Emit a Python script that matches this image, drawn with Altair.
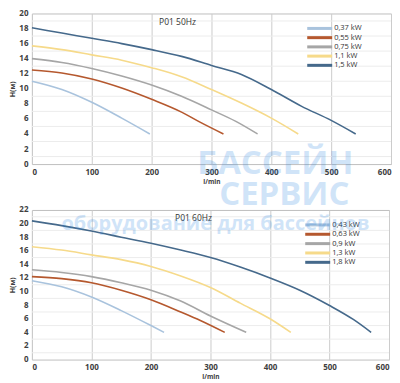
import altair as alt
import pandas as pd

FONT = "Open Sans"

# ---------------- data: 50 Hz ----------------
kw50 = ["0,37 kW", "0,55 kW", "0,75 kW", "1,1 kW", "1,5 kW"]
col50 = ["#a9c3dd", "#b5582e", "#a6a6a6", "#f6da8a", "#45698b"]
q50_037 = [0, 50, 100, 150, 197]
h50_037 = [11.0, 9.9, 8.2, 6.1, 4.0]
q50_055 = [0, 50, 100, 150, 200, 250, 280, 320]
h50_055 = [12.5, 12.1, 11.3, 10.1, 8.6, 6.9, 5.6, 4.0]
q50_075 = [0, 50, 100, 150, 200, 250, 300, 340, 377]
h50_075 = [14.0, 13.5, 12.7, 11.7, 10.5, 9.0, 7.2, 5.7, 4.0]
q50_11 = [0, 50, 100, 150, 200, 250, 300, 350, 400, 445]
h50_11 = [15.7, 15.2, 14.5, 13.8, 12.8, 11.6, 9.9, 8.1, 6.1, 4.0]
q50_15 = [0, 50, 100, 150, 200, 250, 300, 350, 400, 450, 500, 541]
h50_15 = [18.1, 17.4, 16.7, 16.0, 15.2, 14.3, 13.1, 11.9, 9.9, 7.7, 5.8, 4.0]

# ---------------- data: 60 Hz ----------------
kw60 = ["0,43 kW", "0,63 kW", "0,9 kW", "1,3 kW", "1,8 kW"]
col60 = ["#a2bfe0", "#bb4a2e", "#a6a6a6", "#f6da8a", "#45698b"]
q60_043 = [0, 50, 100, 150, 200, 222]
h60_043 = [11.6, 10.7, 9.2, 7.2, 5.0, 4.0]
q60_063 = [0, 50, 100, 150, 200, 250, 283, 324]
h60_063 = [12.2, 11.9, 11.3, 10.2, 8.8, 7.0, 5.75, 4.0]
q60_09 = [0, 50, 100, 150, 200, 250, 300, 360]
h60_09 = [13.2, 12.8, 12.2, 11.3, 10.2, 8.6, 6.4, 4.0]
q60_13 = [0, 50, 100, 150, 200, 250, 300, 350, 400, 435]
h60_13 = [16.6, 16.1, 15.4, 14.7, 13.7, 12.3, 10.6, 8.3, 6.0, 4.0]
q60_18 = [0, 50, 100, 150, 200, 250, 300, 350, 400, 450, 500, 540, 570]
h60_18 = [20.4, 19.7, 18.9, 18.0, 17.1, 16.1, 15.0, 13.6, 12.0, 10.2, 7.95, 5.9, 4.0]

x_ticks = [0, 100, 200, 300, 400, 500, 600]
y_ticks50 = list(range(0, 21, 2))
y_ticks60 = list(range(0, 23, 2))
minor50 = list(range(1, 20, 2))
minor60 = list(range(1, 22, 2))

titles = ["P01 50Hz", "P01 60Hz"]
watermark = ["БАССЕЙН", "СЕРВИС", "оборудование для бассейнов"]


def build_df(labels, qs, hs):
    rows = []
    for lab, qq, hh in zip(labels, qs, hs):
        for q, h in zip(qq, hh):
            rows.append({"kw": lab, "q": q, "h": h})
    return pd.DataFrame(rows)


df50 = build_df(kw50, [q50_037, q50_055, q50_075, q50_11, q50_15],
                [h50_037, h50_055, h50_075, h50_11, h50_15])
df60 = build_df(kw60, [q60_043, q60_063, q60_09, q60_13, q60_18],
                [h60_043, h60_063, h60_09, h60_13, h60_18])


def panel(df, kws, cols, ymax, yticks, minor, title, width, height,
          leg_x, leg_range, title_xy, marks_extra):
    cscale = alt.Scale(domain=kws, range=cols)
    grid = alt.Chart(pd.DataFrame({"v": minor})).mark_rule(
        color="#ececec", strokeWidth=1
    ).encode(y=alt.Y("v:Q", scale=alt.Scale(domain=[0, ymax]), axis=None))

    lines = alt.Chart(df).mark_line(strokeWidth=1.6, interpolate="monotone").encode(
        x=alt.X("q:Q", scale=alt.Scale(domain=[0, 600]),
                axis=alt.Axis(values=x_ticks, title="l/min")),
        y=alt.Y("h:Q", scale=alt.Scale(domain=[0, ymax]),
                axis=alt.Axis(values=yticks, title="H(м)")),
        color=alt.Color("kw:N", scale=cscale, legend=None),
        order=alt.Order("q:Q"),
    )

    ttl = alt.Chart(pd.DataFrame({"t": [title]})).mark_text(
        font=FONT, fontSize=8.5, color="#333333", align="center", baseline="middle"
    ).encode(text="t:N", x=alt.value(title_xy[0]), y=alt.value(title_xy[1]))

    ldf = pd.DataFrame({"kw": kws})
    ly = alt.Y("kw:N", scale=alt.Scale(type="point", domain=kws, range=leg_range, padding=0),
               axis=None)
    lrule = alt.Chart(ldf).mark_rule(strokeWidth=3).encode(
        x=alt.value(leg_x), x2=alt.value(leg_x + 25), y=ly,
        color=alt.Color("kw:N", scale=cscale, legend=None))
    ltext = alt.Chart(ldf).mark_text(
        font=FONT, fontSize=7.5, color="#333333", align="left", baseline="middle"
    ).encode(x=alt.value(leg_x + 27), y=ly, text="kw:N")

    return alt.layer(grid, lines, ttl, lrule, ltext, *marks_extra).resolve_scale(
        y="independent"
    ).properties(width=width, height=height)


def wm(text, x, y, size):
    return alt.Chart(pd.DataFrame({"t": [text]})).mark_text(
        font=FONT, fontSize=size, fontWeight="bold", color="#2f86e0", opacity=0.22,
        align="center", baseline="middle"
    ).encode(text="t:N", x=alt.value(x), y=alt.value(y))


top = panel(df50, kw50, col50, 20, y_ticks50, minor50, titles[0], 360, 151,
            276, [15, 52], (146, 9),
            [wm(watermark[0], 244, 151, 33), wm(watermark[1], 253, 182, 33)])
bottom = panel(df60, kw60, col60, 22, y_ticks60, minor60, titles[1], 358, 150,
               274, [15, 52.5], (162, 8),
               [wm(watermark[2], 184, 14, 20)])

chart = alt.vconcat(top, bottom, spacing=46, bounds="flush").properties(
    padding={"left": 0, "top": 0, "right": 0, "bottom": 0}
).configure_view(
    stroke="#bfbfbf", strokeWidth=1
).configure_axis(
    labelFont=FONT, labelFontSize=8, labelFontWeight="bold", labelColor="#404040",
    titleFont=FONT, titleFontWeight="bold", titleColor="#404040",
    domain=False, ticks=False, grid=True, gridColor="#cccccc", gridWidth=1,
    labelPadding=4,
).configure_axisY(
    titleFontSize=7, titlePadding=3,
).configure_axisX(
    titleFontSize=6.5, titlePadding=2,
)

chart.save("out.html", embed_options={"renderer": "svg", "actions": False})
